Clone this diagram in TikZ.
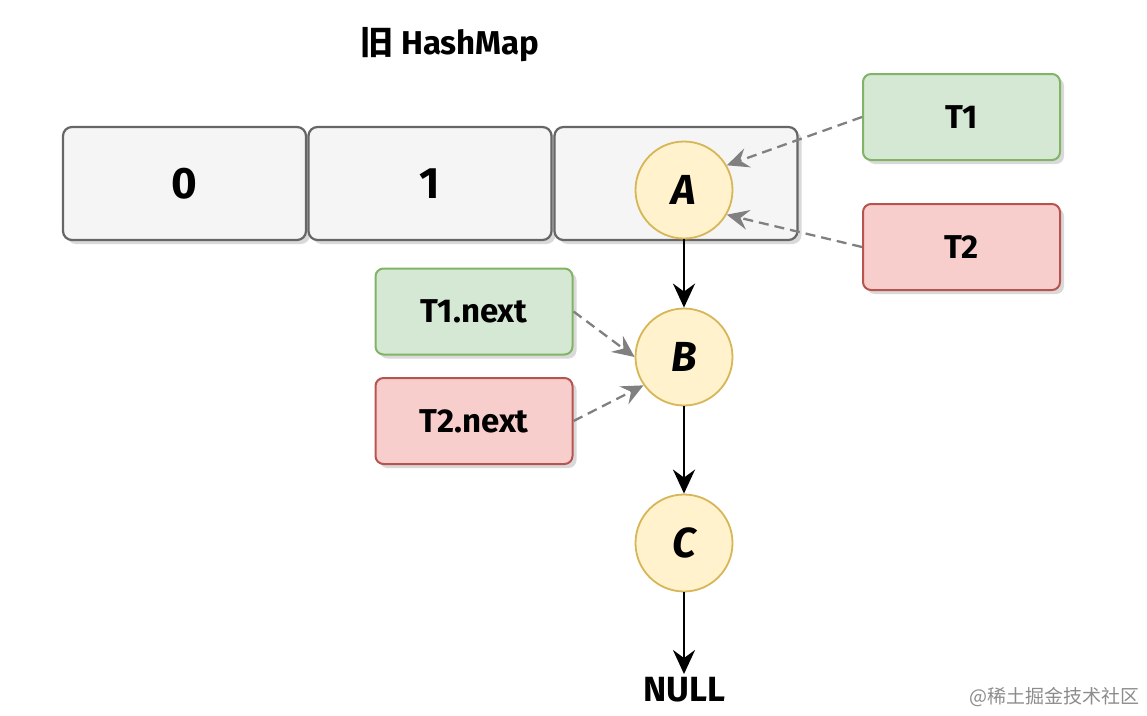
\documentclass[tikz,border=0pt]{standalone}
\usepackage{fontspec}
\setmainfont{Fira Sans}
\newfontfamily\cjk{Noto Sans CJK SC}
\usetikzlibrary{arrows.meta,shadows}
\definecolor{cellfill}{HTML}{F5F5F5}
\definecolor{cellline}{HTML}{666666}
\definecolor{gfill}{HTML}{D5E8D4}
\definecolor{gline}{HTML}{82B366}
\definecolor{rfill}{HTML}{F8CECC}
\definecolor{rline}{HTML}{B85450}
\definecolor{yfill}{HTML}{FFF2CC}
\definecolor{yline}{HTML}{D6B656}
\definecolor{dgray}{HTML}{808080}
\tikzset{
  shad/.style={drop shadow={shadow xshift=4pt,shadow yshift=-4pt,opacity=0.25,fill=black!60}},
  cell/.style={draw=cellline,fill=cellfill,line width=2.2pt,rounded corners=9pt,minimum width=243pt,minimum height=113pt,shad,font=\fontsize{44}{46}\selectfont\bfseries},
  gbox/.style={draw=gline,fill=gfill,line width=2pt,rounded corners=8pt,minimum width=197pt,minimum height=86pt,shad,font=\fontsize{33}{35}\selectfont\bfseries},
  rbox/.style={draw=rline,fill=rfill,line width=2pt,rounded corners=8pt,minimum width=197pt,minimum height=86pt,shad,font=\fontsize{33}{35}\selectfont\bfseries},
  lnode/.style={circle,draw=yline,fill=yfill,line width=1.8pt,minimum size=97pt,inner sep=0pt,font=\fontsize{42}{44}\selectfont\itshape\bfseries},
  solidarrow/.style={line width=2.8pt,-{Stealth[length=24pt,width=22pt,inset=8pt]}},
  dasharrow/.style={draw=dgray,line width=2.3pt,dash pattern=on 10pt off 6pt,-{Stealth[length=22pt,width=20pt,inset=8pt]}}
}
\begin{document}
\begin{tikzpicture}[x=1pt,y=-1pt]
\useasboundingbox (0,0) rectangle (1147,715);
\node[font=\fontsize{33}{35}\selectfont\bfseries] (title) at (450,45) {{\cjk\bfseries 旧} HashMap};
\node[cell] (c0) at (184.5,183.5) {0};
\node[cell] (c1) at (430,183.5) {1};
\node[cell] (c2) at (676,183.5) {};
\node[lnode] (A) at (684,190) {A};
\node[gbox] (T1) at (961.5,117) {T1};
\node[rbox] (T2) at (961.5,247) {T2};
\node[lnode] (B) at (684,357) {B};
\node[gbox] (T1n) at (474,311.5) {T1.next};
\node[rbox] (T2n) at (474,421) {T2.next};
\node[lnode] (C) at (684,543) {C};
\node[font=\fontsize{35}{37}\selectfont\bfseries] (NULL) at (684,690) {NULL};
\node[font=\cjk\fontsize{19}{21}\selectfont,text=black!45,anchor=east] (wm) at (1143,697) {@稀土掘金技术社区};
\draw[solidarrow] (A.south) -- (B.north);
\draw[solidarrow] (B.south) -- (C.north);
\draw[solidarrow] (C.south) -- (NULL.north);
\draw[dasharrow] (T1.west) -- (A.30);
\draw[dasharrow] (T2.west) -- (A.-30);
\draw[dasharrow] (T1n.east) -- (B.180);
\draw[dasharrow] (T2n.east) -- (B.215);
\end{tikzpicture}
\end{document}
